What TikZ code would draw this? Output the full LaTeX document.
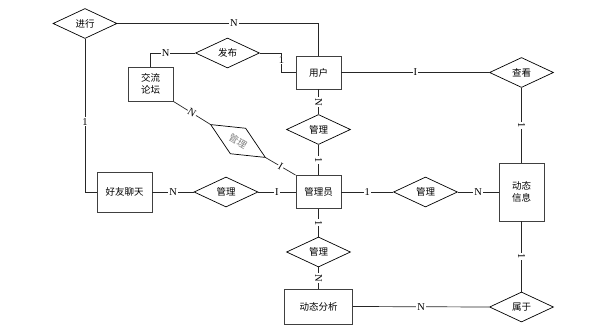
\documentclass[tikz,border=0pt]{standalone}
\usepackage{fontspec}
\setmainfont{Liberation Serif}
\newfontfamily\cjk{Noto Sans CJK SC}
\usetikzlibrary{positioning,shapes.geometric}

\begin{document}
\begin{tikzpicture}[x=1pt,y=-1pt,
    ent/.style={draw=black!75,line width=0.9pt,font=\cjk\fontsize{9.5}{12}\selectfont,align=center,inner sep=0pt},
    rel/.style={draw,diamond,aspect=2,line width=0.7pt,font=\cjk\fontsize{9.5}{11}\selectfont,inner sep=0pt,minimum width=64pt,minimum height=30pt},
    lab/.style={fill=white,inner sep=1pt,font=\fontsize{10.5}{11}\selectfont},
    conn/.style={line width=0.7pt,draw=black!85}]
  \useasboundingbox (0,0) rectangle (602,332);
  % entities
  \node[ent,minimum width=45pt,minimum height=33pt] (yonghu) at (318.5,72.5) {用户};
  \node[ent,minimum width=45pt,minimum height=34pt] (luntan) at (150.5,84) {交流\\论坛};
  \node[ent,minimum width=55pt,minimum height=40pt] (haoyou) at (124.5,192) {好友聊天};
  \node[ent,minimum width=45pt,minimum height=33pt] (gly) at (318.5,192) {管理员};
  \node[ent,minimum width=45pt,minimum height=58pt] (dtxx) at (521.5,192) {动态\\信息};
  \node[ent,minimum width=68pt,minimum height=35pt] (dtfx) at (318.5,306.5) {动态分析};
  % relations
  \node[rel] (jinxing) at (85,23.5) {进行};
  \node[rel] (fabu) at (227.5,53) {发布};
  \node[rel] (chakan) at (521.5,72.5) {查看};
  \node[rel] (guanli1) at (318.5,129.5) {管理};
  \node[rel] (guanli2) at (226,192) {管理};
  \node[rel] (guanli3) at (425.5,192) {管理};
  \node[rel] (guanli4) at (318.5,252) {管理};
  \node[rel] (shuyu) at (521.5,307) {属于};
  \node[rel,rotate=-31,text=gray] (tilt) at (238,141) {管理};
  % connectors
  \draw[conn] (jinxing.east) -| node[lab,pos=0.29]{N} (yonghu.north);
  \draw[conn] (jinxing.south) |- node[lab,pos=0.27]{1} (haoyou.west);
  \draw[conn] (fabu.west) -| node[lab,pos=0.33]{N} (luntan.north);
  \draw[conn] (fabu.east) -| node[lab,pos=0.68]{1} ([xshift=-14pt]yonghu.west) -- (yonghu.west);
  \draw[conn] (yonghu.east) -- node[lab]{I} (chakan.west);
  \draw[conn] (yonghu.south) -- node[lab,sloped]{N} (guanli1.north);
  \draw[conn] (guanli1.south) -- node[lab,sloped]{1} (gly.north);
  \draw[conn] (luntan.south east) -- node[lab,sloped]{N} (tilt.west);
  \draw[conn] (tilt.east) -- node[lab,sloped]{I} (gly.north west);
  \draw[conn] (gly.west) -- node[lab]{I} (guanli2.east);
  \draw[conn] (guanli2.west) -- node[lab]{N} (haoyou.east);
  \draw[conn] (gly.east) -- node[lab]{1} (guanli3.west);
  \draw[conn] (guanli3.east) -- node[lab]{N} (dtxx.west);
  \draw[conn] (chakan.south) -- node[lab,sloped]{1} (dtxx.north);
  \draw[conn] (dtxx.south) -- node[lab,sloped]{1} (shuyu.north);
  \draw[conn] (gly.south) -- node[lab,sloped]{1} (guanli4.north);
  \draw[conn] (guanli4.south) -- node[lab,sloped]{N} (dtfx.north);
  \draw[conn] (dtfx.east) -- node[lab]{N} (shuyu.west);
\end{tikzpicture}
\end{document}
